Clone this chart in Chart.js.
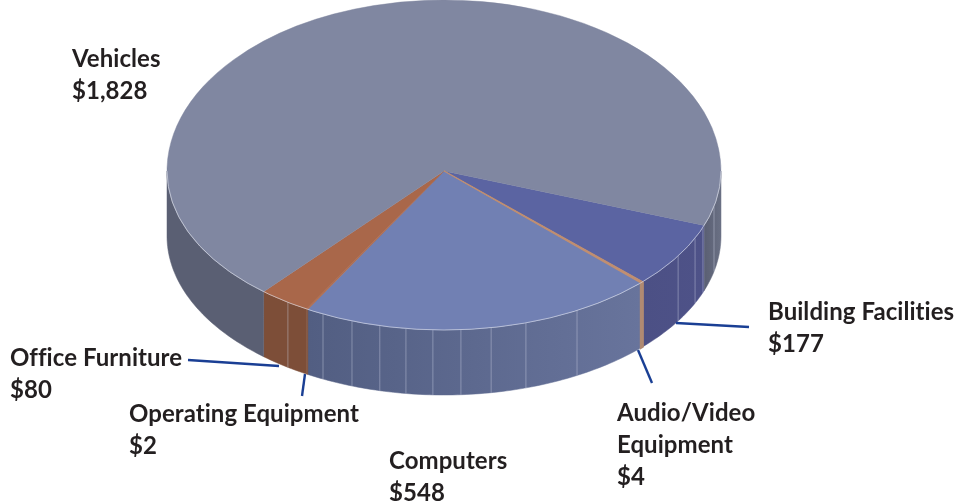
<!DOCTYPE html>
<html><head><meta charset="utf-8">
<style>html,body{margin:0;padding:0;background:#fff}canvas{display:block}</style>
<script src="https://cdn.jsdelivr.net/npm/chart.js@4"></script>
</head><body><canvas id="c" width="964" height="501"></canvas>
<script>
const categories = [["Building Facilities"],["Audio/Video","Equipment"],["Computers"],["Operating Equipment"],["Office Furniture"],["Vehicles"]];
const values = [177,4,548,2,80,1828];
const topColors = ["#5b64a2","#c08e70","#7180b3","#a9674a","#a9674a","#8087a1"];
const wallLeft  = ["#4c5085","#b08a72","#525e82","#7d4e38","#7d4e38","#5a5f73"];
const wallRight = ["#4e5288","#b08a72","#68749c","#7d4e38","#7d4e38","#6a7084"];
const facetDegrees = [12.9,20.8,25,32.3,61.3,72.8,80.2,86.5,92.3,97.9,103.4,109.4,115.9,124.3];
const labelAnchors = [[768,320],[617,421],[389,469],[129,422],[10,366],[72,67]];
const leaders = [[676,323,749,327],[638,350,652,383],null,[305,374,302,396],[188,360,279,366],null];
const borderWidths = [0.5,1.6,0.5,0.5,0.5,0.5];

const CX=444, CY=171, RX=277, RY_TOP=171, RY_BOT=159, DEPTH=65;
const LINE=32;

const pie3d = {
  id:'pie3d',
  beforeDatasetsDraw(chart){
    const ctx=chart.ctx, arcs=chart.getDatasetMeta(0).data;
    const R=arcs[0].outerRadius, ax=arcs[0].x, ay=arcs[0].y;
    const order=[0,2,3,4,5,1];
    const P=(a,d)=>[CX+RX*Math.cos(a), CY+RY_BOT*Math.sin(a)+d];
    order.forEach(i=>{
      const arc=arcs[i];
      let s=arc.startAngle, e=arc.endAngle;
      const norm=Math.floor(s/(2*Math.PI))*2*Math.PI; s-=norm; e-=norm;
      [[0,Math.PI],[2*Math.PI,3*Math.PI]].forEach(([lo,hi])=>{
        const a0=Math.max(s,lo), a1=Math.min(e,hi);
        if(a1<=a0) return;
        const g=ctx.createLinearGradient(P(a1,0)[0],0,Math.max(P(a0,0)[0],P(a1,0)[0]+1),0);
        const flat=(lo===0 && i===5);
        g.addColorStop(0,wallLeft[i]); g.addColorStop(1,flat?wallLeft[i]:wallRight[i]);
        ctx.beginPath();
        const n=Math.max(2,Math.ceil((a1-a0)*60));
        for(let k=0;k<=n;k++){const p=P(a0+(a1-a0)*k/n,0); k?ctx.lineTo(p[0],p[1]):ctx.moveTo(p[0],p[1]);}
        for(let k=n;k>=0;k--){const p=P(a0+(a1-a0)*k/n,DEPTH); ctx.lineTo(p[0],p[1]);}
        ctx.closePath(); ctx.fillStyle=g; ctx.fill();
        ctx.strokeStyle=g; ctx.lineWidth=borderWidths[i]===0.5?0.5:2.2; ctx.stroke();
      });
    });
    ctx.strokeStyle='rgba(205,210,228,0.42)'; ctx.lineWidth=1;
    facetDegrees.forEach(d=>{
      const a=d*Math.PI/180, p=P(a,0), q=P(a,DEPTH);
      ctx.beginPath(); ctx.moveTo(p[0],p[1]); ctx.lineTo(q[0],q[1]); ctx.stroke();
    });
    [[0,CY+0.5,RY_TOP],[CY,501-CY,RY_BOT]].forEach(([y,h,ry])=>{
      ctx.save();
      ctx.beginPath(); ctx.rect(0,y,964,h); ctx.clip();
      ctx.translate(CX,CY); ctx.scale(RX/R,ry/R); ctx.translate(-ax,-ay);
      order.forEach(i=>arcs[i].draw(ctx));
      ctx.restore();
    });
    ctx.beginPath(); ctx.ellipse(CX,CY,RX,RY_BOT,0,0,Math.PI);
    ctx.strokeStyle='rgba(225,228,238,0.6)'; ctx.lineWidth=1; ctx.stroke();
    return false;
  },
  afterDraw(chart){
    const ctx=chart.ctx;
    ctx.save();
    ctx.strokeStyle='#1a3f94'; ctx.lineWidth=2.4;
    leaders.forEach(l=>{ if(!l) return; ctx.beginPath(); ctx.moveTo(l[0],l[1]); ctx.lineTo(l[2],l[3]); ctx.stroke(); });
    ctx.fillStyle='#231f20'; ctx.textAlign='left'; ctx.textBaseline='alphabetic';
    ctx.font='700 24px Lato';
    ctx.letterSpacing='0.05px';
    categories.forEach((lines,i)=>{
      const [x,y]=labelAnchors[i];
      [...lines,'$'+values[i].toLocaleString('en-US')].forEach((t,k)=>ctx.fillText(t,x,y+k*LINE));
    });
    ctx.restore();
  }
};

new Chart(document.getElementById('c'),{
  type:'pie',
  data:{labels:categories.map(l=>l.join(' ')),datasets:[{data:values,backgroundColor:topColors,borderColor:topColors,borderWidth:borderWidths}]},
  options:{responsive:false,animation:false,rotation:110,
    plugins:{legend:{display:false},tooltip:{enabled:false}}},
  plugins:[pie3d]
});
</script></body></html>
